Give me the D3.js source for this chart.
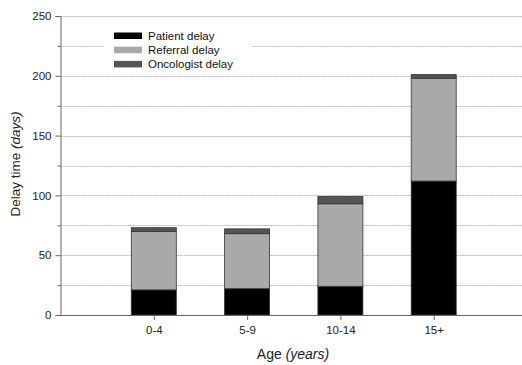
<!DOCTYPE html>
<html>
<head>
<meta charset="utf-8">
<script src="https://cdn.jsdelivr.net/npm/d3@7"></script>
<style>
  html, body { margin: 0; padding: 0; background: #fff; }
  svg { display: block; font-family: "Liberation Sans", Arial, sans-serif; }
</style>
</head>
<body>
<svg id="chart" width="522" height="365"></svg>
<script>
// Age groups and their delay components (days)
const ageGroups = ["0-4", "5-9", "10-14", "15+"];
const patientDelay = [21, 22, 24, 112];
const referralDelay = [49, 46, 69, 86];
const oncologistDelay = [3, 4, 6, 3];

const seriesNames = ["Patient delay", "Referral delay", "Oncologist delay"];
const seriesColors = ["#000000", "#a9a9a9", "#555555"];
const yTicks = [0, 50, 100, 150, 200, 250];
const yMinorTicks = [25, 75, 125, 175, 225];

const svg = d3.select("#chart");
const W = 522;
const x0 = 60.5, yBase = 315, yTop = 16;

const rows = ageGroups.map((g, i) => ({
  group: g,
  "Patient delay": patientDelay[i],
  "Referral delay": referralDelay[i],
  "Oncologist delay": oncologistDelay[i]
}));
const stacked = d3.stack().keys(seriesNames)(rows);

// Category positions: one slot per age group plus a leading empty slot
const x = d3.scaleLinear().domain([0, 5]).range([x0, x0 + 5 * 93.3]);
const y = d3.scaleLinear().domain([0, 250]).range([yBase, yTop]);
const barW = 45;

// Dotted horizontal grid
const grid = svg.append("g");
grid.selectAll("line")
  .data(yTicks.slice(1).concat(yMinorTicks))
  .join("line")
  .attr("x1", x0).attr("x2", W)
  .attr("y1", d => Math.round(y(d)) + 0.5).attr("y2", d => Math.round(y(d)) + 0.5)
  .attr("stroke", "#b4b4b4").attr("stroke-width", 1)
  .attr("stroke-dasharray", "2,1");

// Stacked bars
svg.append("g").selectAll("g")
  .data(stacked)
  .join("g")
  .attr("fill", (d, i) => seriesColors[i])
  .selectAll("rect")
  .data(d => d)
  .join("rect")
  .attr("x", (d, i) => x(i + 1) - barW / 2)
  .attr("y", d => y(d[1]))
  .attr("width", barW)
  .attr("height", d => y(d[0]) - y(d[1]))
  .attr("stroke", "#333")
  .attr("stroke-width", 0.8);

// Y axis
const yAxis = svg.append("g").attr("transform", `translate(${x0},0)`)
  .call(d3.axisLeft(y).tickValues(yTicks).tickSize(5).tickPadding(4).tickFormat(d3.format("d")));
yAxis.select(".domain").attr("stroke", "#666");
yAxis.selectAll(".tick line").attr("stroke", "#666");
yAxis.selectAll("text").attr("font-size", 11.5).attr("fill", "#222");
svg.append("g").attr("transform", `translate(${x0},0)`)
  .call(d3.axisLeft(y).tickValues(yMinorTicks).tickSize(3).tickFormat(""))
  .call(g => g.select(".domain").remove())
  .selectAll(".tick line").attr("stroke", "#666");

// X axis
const xAxis = svg.append("g").attr("transform", `translate(0,${yBase})`)
  .call(d3.axisBottom(x).tickValues([1, 2, 3, 4]).tickSize(5).tickPadding(6)
    .tickFormat(i => ageGroups[i - 1]));
xAxis.select(".domain").attr("d", `M${x0},0.5H${W}`).attr("stroke", "#666");
xAxis.selectAll(".tick line").attr("stroke", "#666");
xAxis.selectAll("text").attr("font-size", 11.5).attr("fill", "#222");

// Axis titles
const xt = svg.append("text").attr("x", 293).attr("y", 359)
  .attr("text-anchor", "middle").attr("font-size", 14).attr("fill", "#222");
xt.append("tspan").text("Age ");
xt.append("tspan").attr("font-style", "italic").text("(years)");

const yt = svg.append("text")
  .attr("transform", "translate(20,164) rotate(-90)")
  .attr("text-anchor", "middle").attr("font-size", 13.5).attr("fill", "#222");
yt.append("tspan").text("Delay time ");
yt.append("tspan").attr("font-style", "italic").text("(days)");

// Legend
const legend = svg.append("g");
legend.append("rect").attr("x", 104).attr("y", 24).attr("width", 148).attr("height", 50).attr("fill", "#fff");
seriesNames.forEach((name, i) => {
  const ly = 32.5 + i * 14.2;
  legend.append("rect").attr("x", 114).attr("y", ly).attr("width", 28).attr("height", 6.5)
    .attr("fill", seriesColors[i]);
  legend.append("text").attr("x", 148).attr("y", ly + 7.5).attr("font-size", 11.5)
    .attr("fill", "#111").text(name);
});
</script>
</body>
</html>
